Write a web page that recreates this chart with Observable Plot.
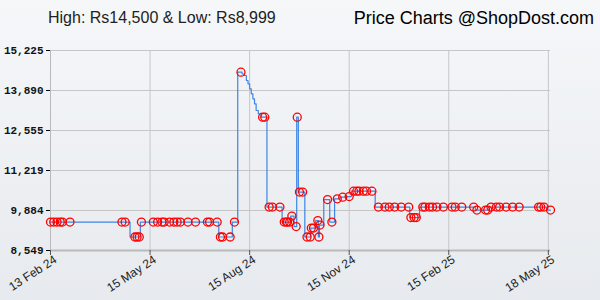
<!DOCTYPE html>
<html><head><meta charset="utf-8">
<script src="https://cdn.jsdelivr.net/npm/d3@7"></script>
<script src="https://cdn.jsdelivr.net/npm/@observablehq/plot@0.6"></script>
<style>
html,body{margin:0;padding:0;}
#wrap{position:relative;width:600px;height:300px;background:linear-gradient(#f5f7f9,#e7eaee);overflow:hidden;}
.t1{position:absolute;left:48px;top:10px;font:16px "Liberation Sans",Arial,sans-serif;line-height:16px;color:#222;white-space:nowrap;}
.t2{position:absolute;right:6px;top:9px;font:18px "Liberation Sans",Arial,sans-serif;line-height:18px;color:#000;white-space:nowrap;}
#chart{position:absolute;left:0;top:0;}
</style></head>
<body><div id="wrap"><div class="t1" id="t1"></div><div class="t2" id="t2"></div><div id="chart"></div></div>
<script>
const titleLeft = "High: Rs14,500 & Low: Rs8,999";
const titleRight = "Price Charts @ShopDost.com";

const xStart = "2024-02-13";
const xEnd = "2025-05-20";
const tickDates = ["2024-02-13","2024-05-15","2024-08-15","2024-11-15","2025-02-15","2025-05-18"];
const tickLabels = ["13 Feb 24","15 May 24","15 Aug 24","15 Nov 24","15 Feb 25","18 May 25"];
const yTicks = [8549, 9884, 11219, 12555, 13890, 15225];

// recorded price points (drawn with markers)
const markDates = [
 "2024-02-13","2024-02-16","2024-02-19","2024-02-22","2024-02-24","2024-03-02",
 "2024-04-19","2024-04-22","2024-05-01","2024-05-03","2024-05-05","2024-05-07",
 "2024-05-18","2024-05-22","2024-05-26","2024-05-28","2024-06-02","2024-06-06",
 "2024-06-09","2024-06-12","2024-06-19","2024-06-26","2024-07-07","2024-07-09",
 "2024-07-16","2024-07-19","2024-07-21","2024-07-28","2024-08-01","2024-08-07",
 "2024-08-27","2024-08-29","2024-09-02","2024-09-05","2024-09-12","2024-09-16",
 "2024-09-18","2024-09-19","2024-09-21","2024-09-23","2024-09-27","2024-09-28",
 "2024-09-30","2024-10-03","2024-10-07","2024-10-10","2024-10-11","2024-10-13",
 "2024-10-17","2024-10-18","2024-10-19","2024-10-26","2024-10-30","2024-11-04",
 "2024-11-09","2024-11-15","2024-11-19","2024-11-22","2024-11-24","2024-11-28",
 "2024-12-01","2024-12-06","2024-12-12","2024-12-18","2024-12-22","2024-12-27",
 "2025-01-02","2025-01-09","2025-01-11","2025-01-14","2025-01-16","2025-01-22",
 "2025-01-24","2025-01-28","2025-01-31","2025-02-04","2025-02-10","2025-02-18",
 "2025-02-21","2025-02-27","2025-03-10","2025-03-13","2025-03-21","2025-03-23",
 "2025-03-26","2025-03-31","2025-04-03","2025-04-09","2025-04-15","2025-04-21",
 "2025-05-09","2025-05-11","2025-05-14","2025-05-20"
];
const markPrices = [
 9499,9499,9499,9499,9499,9499,
 9499,9499,8999,8999,8999,9499,
 9499,9499,9499,9499,9499,9499,
 9499,9499,9499,9499,9499,9499,
 9499,8999,8999,8999,9499,14500,
 12999,12999,9999,9999,9999,9499,
 9499,9499,9499,9699,9349,12999,
 10499,10499,8999,8999,9299,9299,
 9549,8999,9399,10249,9499,10275,
 10329,10349,10529,10529,10529,10529,
 10529,10529,9999,9999,9999,9999,
 9999,9999,9649,9649,9649,9999,
 9999,9999,9999,9999,9999,9999,
 9999,9999,9999,9899,9899,9899,
 9999,9999,9999,9999,9999,9999,
 9999,9999,9999,9899
];
// daily prices during the slide after the peak (line only)
const slideDates = ["2024-08-09","2024-08-11","2024-08-13","2024-08-14","2024-08-16","2024-08-17","2024-08-19","2024-08-20","2024-08-22","2024-08-24"];
const slidePrices = [14440,14391,14224,14113,13947,13780,13613,13446,13222,13112];

document.getElementById("t1").textContent = titleLeft;
document.getElementById("t2").textContent = titleRight;

const parse = d3.utcParse("%Y-%m-%d");
const markData = markDates.map((d, i) => ({date: parse(d), price: markPrices[i]}));
const lineData = markData.concat(slideDates.map((d, i) => ({date: parse(d), price: slidePrices[i]})))
  .sort((a, b) => a.date - b.date);
const ticks = tickDates.map(parse);
const labelOf = new Map(ticks.map((t, i) => [+t, tickLabels[i]]));

const chart = Plot.plot({
  width: 600, height: 300,
  marginTop: 50, marginRight: 50, marginBottom: 50, marginLeft: 50,
  style: {background: "transparent", fontFamily: "Liberation Sans, Arial, sans-serif", overflow: "visible"},
  x: {type: "utc", domain: [parse(xStart), parse(xEnd)]},
  y: {domain: [yTicks[0], yTicks[yTicks.length - 1]]},
  marks: [
    Plot.gridY(yTicks, {stroke: "#c6c6c6", strokeOpacity: 1}),
    Plot.gridX(ticks, {stroke: "#c6c6c6", strokeOpacity: 1}),
    Plot.ruleY([yTicks[0]], {stroke: "#b9b9b9", strokeWidth: 2}),
    Plot.ruleX([parse(xStart)], {stroke: "#b9b9b9"}),
    Plot.axisY(yTicks, {tickSize: 4, tickPadding: 3, tickFormat: d3.format(","), fontFamily: "Liberation Mono, DejaVu Sans Mono, monospace", fontWeight: "bold", fontSize: 11, fill: "#111", stroke: "#000", label: null}),
    Plot.axisX(ticks, {tickSize: 5, tickFormat: () => "", stroke: "#555", label: null}),
    Plot.axisX(ticks, {tickSize: 0, tickPadding: 8, tickRotate: -33, dx: 5, tickFormat: d => labelOf.get(+d), fontSize: 12, fill: "#222", label: null}),
    Plot.line(lineData, {x: "date", y: "price", curve: "step", stroke: "#3d85e6", strokeWidth: 1.2}),
    Plot.dot(markData, {x: "date", y: "price", r: 4, stroke: "#ff0000", fill: "none", strokeWidth: 1.3})
  ]
});
document.getElementById("chart").appendChild(chart);
</script>
</body></html>
